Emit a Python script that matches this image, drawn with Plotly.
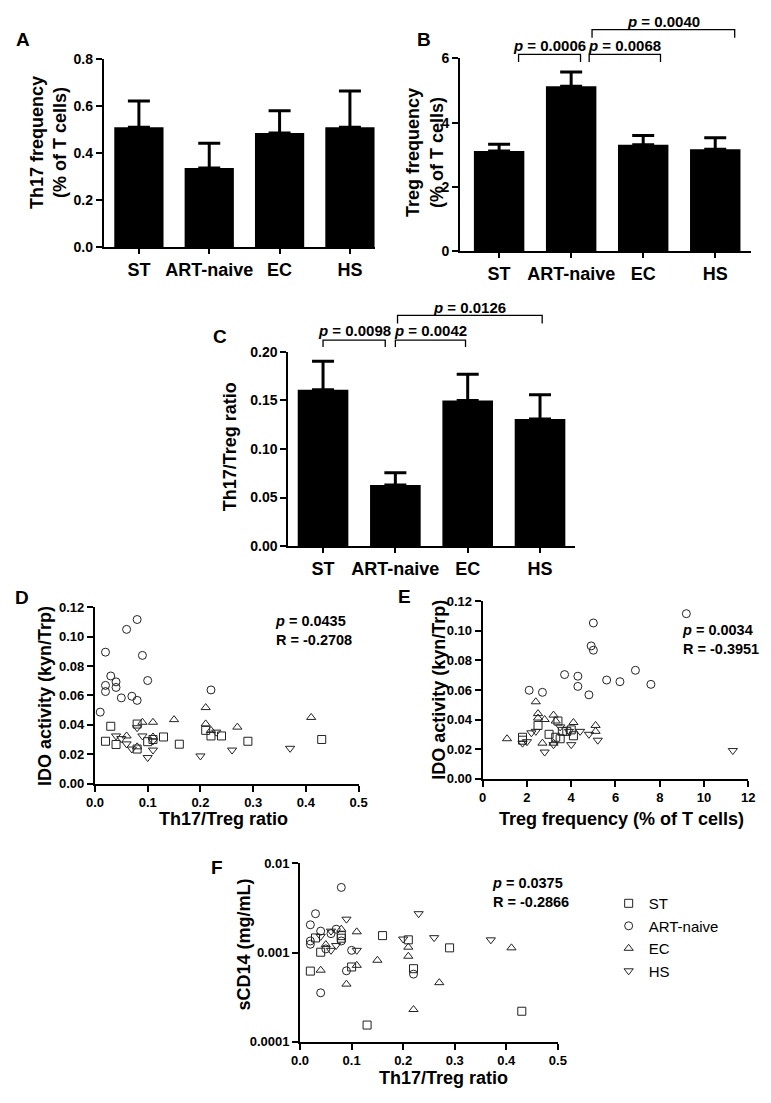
import plotly.graph_objects as go

W, H = 771, 1103
FONT = "Liberation Sans"

# ---------------- data ----------------
groups = ["ST", "ART-naive", "EC", "HS"]

th17_mean = [0.511, 0.338, 0.487, 0.511]
th17_sem = [0.112, 0.105, 0.094, 0.154]
treg_mean = [3.12, 5.13, 3.31, 3.17]
treg_sem = [0.21, 0.44, 0.29, 0.36]
ratio_mean = [0.161, 0.063, 0.150, 0.131]
ratio_sem = [0.0295, 0.0125, 0.027, 0.025]

treg_pvals = ["0.0006", "0.0068", "0.0040"]
ratio_pvals = ["0.0098", "0.0042", "0.0126"]

# Panel D: Th17/Treg ratio vs IDO activity
d_st_x = [0.02, 0.03, 0.04, 0.08, 0.08, 0.10, 0.13, 0.16, 0.21, 0.22, 0.24, 0.29, 0.43, 0.11]
d_st_y = [0.0288, 0.039, 0.0266, 0.0405, 0.0235, 0.0285, 0.0317, 0.0268, 0.0362, 0.0324, 0.0324, 0.0288, 0.030, 0.030]
d_art_x = [0.01, 0.02, 0.02, 0.02, 0.03, 0.04, 0.04, 0.05, 0.06, 0.07, 0.08, 0.08, 0.09, 0.10, 0.22]
d_art_y = [0.0486, 0.0894, 0.0668, 0.0626, 0.0732, 0.0692, 0.0654, 0.0583, 0.1049, 0.0594, 0.1116, 0.0566, 0.0872, 0.0701, 0.0637]
d_ec_x = [0.09, 0.11, 0.15, 0.21, 0.21, 0.22, 0.27, 0.41, 0.11, 0.06, 0.08]
d_ec_y = [0.0417, 0.0417, 0.0435, 0.0517, 0.0406, 0.0362, 0.0384, 0.045, 0.0317, 0.0324, 0.0250]
d_hs_x = [0.04, 0.06, 0.07, 0.09, 0.10, 0.11, 0.20, 0.23, 0.26, 0.37, 0.08, 0.05, 0.11]
d_hs_y = [0.0324, 0.027, 0.0235, 0.0324, 0.0177, 0.0228, 0.0188, 0.035, 0.0228, 0.024, 0.038, 0.0306, 0.029]

# Panel E: Treg frequency vs IDO activity
e_st_x = [1.8, 1.8, 2.5, 3.0, 3.3, 3.4, 3.5, 3.6, 3.8, 4.0, 4.1]
e_st_y = [0.028, 0.026, 0.036, 0.030, 0.028, 0.039, 0.027, 0.032, 0.032, 0.033, 0.029]
e_art_x = [2.1, 2.7, 3.7, 4.3, 4.3, 5.0, 4.9, 5.0, 4.8, 5.6, 6.2, 6.9, 7.6, 9.2]
e_art_y = [0.0598, 0.0584, 0.0704, 0.0693, 0.0624, 0.1053, 0.0898, 0.0869, 0.0567, 0.0667, 0.0656, 0.0733, 0.0638, 0.1116]
e_ec_x = [1.1, 2.4, 2.5, 2.5, 2.8, 2.7, 3.2, 3.3, 4.1, 5.1, 5.1, 3.2]
e_ec_y = [0.027, 0.052, 0.044, 0.041, 0.040, 0.024, 0.043, 0.039, 0.038, 0.036, 0.032, 0.024]
e_hs_x = [1.8, 2.0, 2.2, 2.4, 2.8, 3.2, 3.5, 4.0, 4.4, 4.8, 5.2, 11.3, 3.9]
e_hs_y = [0.024, 0.025, 0.031, 0.032, 0.018, 0.023, 0.035, 0.023, 0.032, 0.030, 0.026, 0.019, 0.032]

# Panel F: Th17/Treg ratio vs sCD14
f_st_x = [0.02, 0.03, 0.04, 0.08, 0.10, 0.13, 0.16, 0.21, 0.22, 0.29, 0.43, 0.08]
f_st_y = [0.00062, 0.00146, 0.00101, 0.00155, 0.00069, 0.000154, 0.00155, 0.00139, 0.00066, 0.00113, 0.00022, 0.00145]
f_art_x = [0.08, 0.03, 0.02, 0.04, 0.02, 0.02, 0.06, 0.07, 0.08, 0.10, 0.09, 0.04, 0.22, 0.05]
f_art_y = [0.00538, 0.00273, 0.00205, 0.00174, 0.00135, 0.00124, 0.00163, 0.00183, 0.00135, 0.00106, 0.000625, 0.000354, 0.000574, 0.0011]
f_ec_x = [0.04, 0.08, 0.11, 0.09, 0.11, 0.15, 0.21, 0.21, 0.22, 0.27, 0.41, 0.05]
f_ec_y = [0.000635, 0.00183, 0.00171, 0.000443, 0.00072, 0.00082, 0.00115, 0.00091, 0.00023, 0.00046, 0.00113, 0.00123]
f_hs_x = [0.09, 0.23, 0.20, 0.26, 0.37, 0.11, 0.06, 0.04, 0.07, 0.06]
f_hs_y = [0.00237, 0.00273, 0.00142, 0.00147, 0.00139, 0.00106, 0.00106, 0.00152, 0.0012, 0.00174]

stats_d = ("0.0435", "-0.2708")
stats_e = ("0.0034", "-0.3951")
stats_f = ("0.0375", "-0.2866")

# ---------------- layout helpers ----------------
def dx(a, b):
    return [a / W, b / W]

def dy(top, bottom):
    return [1 - bottom / H, 1 - top / H]

def px_x(v):
    return v / W

def px_y(v):
    return 1 - v / H

def axis(**kw):
    d = dict(showline=True, linecolor="black", linewidth=2, ticks="outside",
             ticklen=6, tickwidth=2, tickcolor="black", showgrid=False,
             zeroline=False, mirror=False,
             tickfont=dict(family=FONT, size=14, color="black", weight="bold"))
    d.update(kw)
    return d

fig = go.Figure()

xpos = [0, 1, 2, 3]
bar_axes = [
    ("x", "y", th17_mean, th17_sem),
    ("x2", "y2", treg_mean, treg_sem),
    ("x3", "y3", ratio_mean, ratio_sem),
]
for xa, ya, m, s in bar_axes:
    fig.add_trace(go.Bar(
        x=xpos, y=m, width=0.7, marker=dict(color="black", line=dict(width=0)),
        error_y=dict(type="data", array=s, arrayminus=[0] * 4, symmetric=False,
                     color="black", thickness=3, width=11),
        xaxis=xa, yaxis=ya, showlegend=False))

symbols = ["square-open", "circle-open", "triangle-up-open", "triangle-down-open"]
scatter_sets = [
    ("x4", "y4", [(d_st_x, d_st_y), (d_art_x, d_art_y), (d_ec_x, d_ec_y), (d_hs_x, d_hs_y)], False),
    ("x5", "y5", [(e_st_x, e_st_y), (e_art_x, e_art_y), (e_ec_x, e_ec_y), (e_hs_x, e_hs_y)], False),
    ("x6", "y6", [(f_st_x, f_st_y), (f_art_x, f_art_y), (f_ec_x, f_ec_y), (f_hs_x, f_hs_y)], True),
]
for xa, ya, sets, show in scatter_sets:
    for g, sym, (xs, ys) in zip(groups, symbols, sets):
        fig.add_trace(go.Scatter(
            x=xs, y=ys, mode="markers", name=g, legendgroup=g, showlegend=show,
            marker=dict(symbol=sym, size=8, color="#222", line=dict(width=1, color="#222")),
            xaxis=xa, yaxis=ya, cliponaxis=False))

rA = [-0.5, 3.36]
rB = [-0.54, 3.50]
rC = [-0.48, 3.49]
bar_x = dict(tickmode="array", tickvals=xpos, ticktext=groups, ticklen=5,
             tickfont=dict(family=FONT, size=18, color="black", weight="bold"))
small = dict(tickfont=dict(family=FONT, size=13, color="black", weight="bold"))

fig.update_layout(
    width=W, height=H, margin=dict(l=0, r=0, t=0, b=0),
    paper_bgcolor="white", plot_bgcolor="white",
    font=dict(family=FONT, color="black"),
    xaxis=axis(domain=dx(97, 375), range=rA, anchor="y", **bar_x),
    yaxis=axis(domain=dy(52, 243), range=[0, 0.8], dtick=0.2, tickformat=".1f", anchor="x"),
    xaxis2=axis(domain=dx(462, 760), range=rB, anchor="y2", **bar_x),
    yaxis2=axis(domain=dy(51, 247), range=[0, 6], dtick=2, anchor="x2"),
    xaxis3=axis(domain=dx(286, 580), range=rC, anchor="y3", **bar_x),
    yaxis3=axis(domain=dy(349, 546), range=[0, 0.2], dtick=0.05, tickformat=".2f", anchor="x3"),
    xaxis4=axis(domain=dx(88, 358), range=[0, 0.5], dtick=0.1, tickformat=".1f", anchor="y4", **small),
    yaxis4=axis(domain=dy(608, 787), range=[0, 0.12], dtick=0.02, tickformat=".2f", anchor="x4", **small),
    xaxis5=axis(domain=dx(485, 757), range=[0, 12], dtick=2, anchor="y5", **small),
    yaxis5=axis(domain=dy(602, 782), range=[0, 0.12], dtick=0.02, tickformat=".2f", anchor="x5", **small),
    xaxis6=axis(domain=dx(298, 562), range=[0, 0.5], dtick=0.1, tickformat=".1f", anchor="y6", **small),
    yaxis6=axis(domain=dy(868, 1049), type="log", range=[-4, -2], anchor="x6",
                tickmode="array", tickvals=[0.0001, 0.001, 0.01], ticktext=["0.0001", "0.001", "0.01"], **small),
    legend=dict(x=px_x(614), y=px_y(892), xanchor="left", yanchor="top",
                font=dict(family=FONT, size=15, color="black"), bgcolor="rgba(0,0,0,0)",
                tracegroupgap=0, itemwidth=30),
    showlegend=True,
)

ann = []
def text(x, y, s, size=18, angle=0, xanchor="center", align="center"):
    ann.append(dict(x=px_x(x), y=px_y(y), xref="paper", yref="paper", text=s, showarrow=False,
                    textangle=angle, xanchor=xanchor, yanchor="middle", align=align,
                    font=dict(family=FONT, size=size, color="black")))

# panel letters
for lab, x, y in [("A", 14, 32), ("B", 425, 32), ("C", 216, 333), ("D", 13, 598), ("E", 405, 597), ("F", 213, 872)]:
    text(x, y, "<b>%s</b>" % lab, size=19)

# axis titles
text(40, 137, "<b>Th17 frequency<br>(% of T cells)</b>", size=18, angle=-90)
text(426, 147, "<b>Treg frequency<br>(% of T cells)</b>", size=18, angle=-90)
text(226, 445, "<b>Th17/Treg ratio</b>", size=18, angle=-90)
text(37, 698, "<b>IDO activity (kyn/Trp)</b>", size=18, angle=-90)
text(440, 692, "<b>IDO activity (kyn/Trp)</b>", size=18, angle=-90)
text(241, 950, "<b>sCD14 (mg/mL)</b>", size=18, angle=-90)
text(220, 823, "<b>Th17/Treg ratio</b>", size=18)
text(627, 823, "<b>Treg frequency (% of T cells)</b>", size=18)
text(445, 1086, "<b>Th17/Treg ratio</b>", size=18)

# correlation stats
for (p, r), x, y in [(stats_d, 270, 632), (stats_e, 687, 641), (stats_f, 493, 898)]:
    text(x, y, "<b><i>p</i> = %s<br>R = %s</b>" % (p, r), size=14.5, xanchor="left", align="left")

# significance brackets (in data units of each bar panel)
shapes = []
def bracket(xref, yref, xr, yr, x0, x1, ytop, ybot, ytext, label):
    fx = lambda v: (v - xr[0]) / (xr[1] - xr[0])
    fy = lambda v: (v - yr[0]) / (yr[1] - yr[0])
    path = "M %f %f L %f %f L %f %f L %f %f" % (fx(x0), fy(ybot), fx(x0), fy(ytop), fx(x1), fy(ytop), fx(x1), fy(ybot))
    shapes.append(dict(type="path", path=path, xref=xref + " domain", yref=yref + " domain",
                       line=dict(color="black", width=1.3)))
    ann.append(dict(x=fx((x0 + x1) / 2), y=fy(ytext), xref=xref + " domain", yref=yref + " domain",
                    text="<b><i>p</i> = %s</b>" % label, showarrow=False, xanchor="center",
                    yanchor="middle", font=dict(family=FONT, size=15, color="black")))

bracket("x2", "y2", rB, [0, 6], 0.27, 1.13, 6.12, 5.88, 6.40, treg_pvals[0])
bracket("x2", "y2", rB, [0, 6], 1.25, 2.24, 6.12, 5.88, 6.40, treg_pvals[1])
bracket("x2", "y2", rB, [0, 6], 1.29, 3.27, 6.89, 6.64, 7.13, treg_pvals[2])
bracket("x3", "y3", rC, [0, 0.2], 0.0, 0.86, 0.2122, 0.2051, 0.2220, ratio_pvals[0])
bracket("x3", "y3", rC, [0, 0.2], 1.0, 1.97, 0.2122, 0.2051, 0.2220, ratio_pvals[1])
bracket("x3", "y3", rC, [0, 0.2], 1.03, 3.03, 0.2376, 0.2294, 0.2457, ratio_pvals[2])

fig.update_layout(annotations=ann, shapes=shapes)
fig.write_html("out.html", config={"displayModeBar": False},
               post_script="document.body.style.margin='0';document.body.style.overflow='hidden';")
